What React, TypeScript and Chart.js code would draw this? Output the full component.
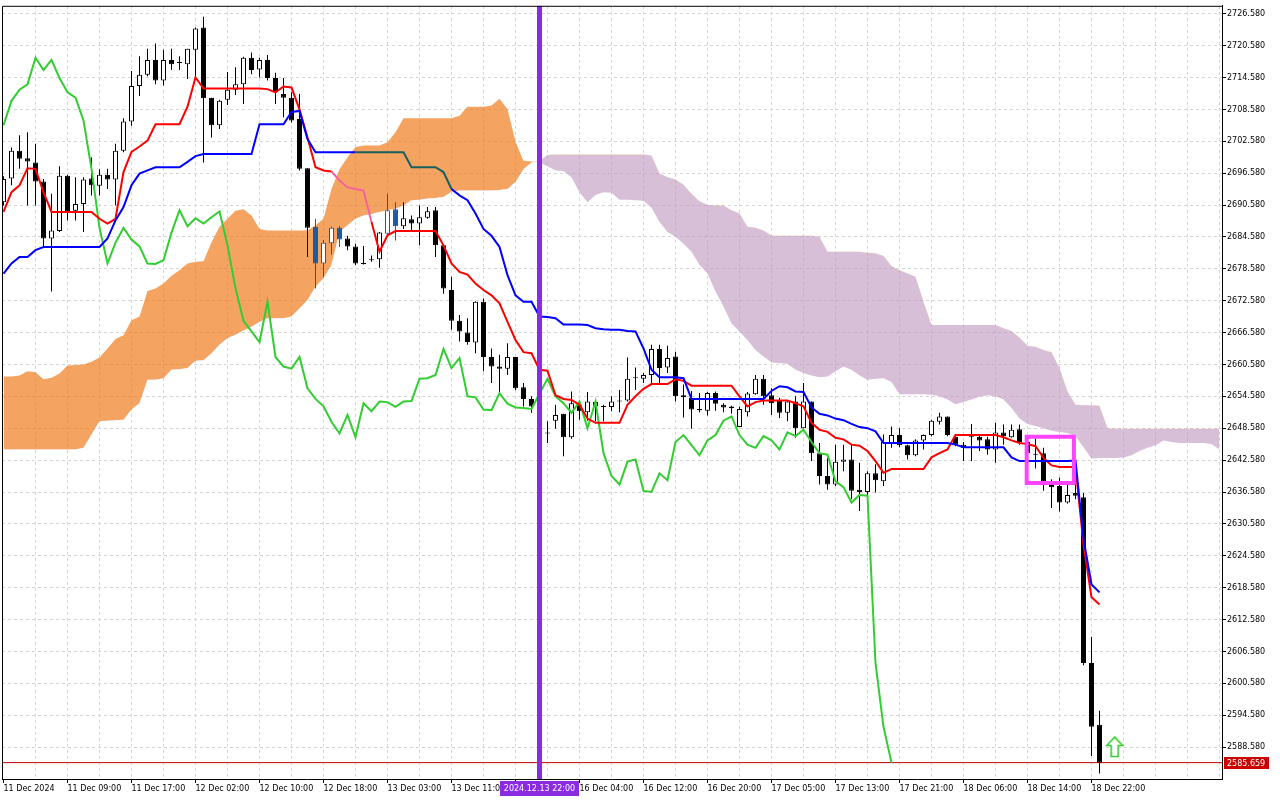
import { useEffect, useRef } from 'react';
import { Chart, registerables } from 'chart.js';

Chart.register(...registerables);

// ---- XAUUSD H1, 11 Dec 2024 01:00 .. 18 Dec 2024 23:00 (bar index 0..137) ----
const barOpen = [
  2691.1, 2695.6, 2700.8, 2699.4, 2698.6, 2695.0, 2684.3, 2685.7, 2696.1, 2689.5,
  2690.8, 2695.6, 2694.2, 2696.3, 2695.4, 2700.8, 2706.3, 2713.0, 2715.1, 2717.9,
  2714.0, 2717.9, 2717.3, 2717.1, 2719.8, 2724.0, 2710.8, 2705.6, 2710.4, 2712.3,
  2713.3, 2718.3, 2716.1, 2717.9, 2714.5, 2711.5, 2710.8, 2706.8, 2697.5, 2686.5,
  2679.6, 2683.4, 2686.3, 2684.3, 2682.8, 2679.7, 2680.4, 2680.4, 2685.2, 2689.8,
  2686.6, 2687.9, 2687.1, 2688.2, 2689.6, 2683.0, 2674.6, 2668.8, 2666.6, 2664.7,
  2672.4, 2662.0, 2660.2, 2659.8, 2662.0, 2656.3, 2654.1, 2652.7, 2647.8, 2650.0,
  2651.3, 2646.9, 2653.0, 2651.6, 2652.7, 2652.7, 2652.6, 2653.6, 2653.8, 2658.2,
  2657.9, 2658.6, 2663.5, 2660.0, 2662.1, 2654.8, 2654.3, 2652.1, 2651.9, 2655.2,
  2653.0, 2652.7, 2648.8, 2651.6, 2655.0, 2657.9, 2654.8, 2653.8, 2651.5, 2653.6,
  2648.6, 2653.6, 2643.9, 2639.6, 2638.0, 2642.3, 2642.7, 2637.0, 2636.6, 2640.1,
  2638.6, 2645.8, 2647.3, 2645.4, 2643.5, 2646.3, 2647.3, 2649.8, 2650.8, 2647.0,
  2645.5, 2646.9, 2647.0, 2646.5, 2644.6, 2647.8, 2646.9, 2648.4, 2646.0, 2643.8,
  2643.9, 2638.6, 2637.7, 2634.6, 2636.4, 2635.6, 2604.4, 2592.8,
];
const barHigh = [
  2696.0, 2701.4, 2703.7, 2704.3, 2702.1, 2695.5, 2692.7, 2697.9, 2696.3, 2695.8,
  2695.8, 2699.6, 2697.3, 2697.4, 2702.1, 2706.9, 2715.8, 2718.6, 2720.0, 2721.0,
  2719.8, 2720.0, 2718.6, 2720.0, 2724.0, 2726.0, 2710.8, 2710.4, 2715.6, 2716.5,
  2718.5, 2719.3, 2718.3, 2718.8, 2715.5, 2714.5, 2711.8, 2711.5, 2697.5, 2688.0,
  2684.0, 2686.5, 2686.6, 2684.8, 2683.3, 2682.9, 2681.1, 2685.5, 2692.7, 2691.1,
  2691.1, 2688.6, 2690.5, 2690.2, 2690.2, 2683.0, 2677.1, 2669.9, 2669.3, 2672.5,
  2673.0, 2663.6, 2662.4, 2664.6, 2662.0, 2657.1, 2654.6, 2653.5, 2649.9, 2653.0,
  2651.3, 2655.5, 2653.6, 2655.4, 2653.6, 2653.0, 2654.6, 2655.8, 2661.9, 2660.0,
  2659.0, 2664.3, 2664.3, 2664.1, 2663.0, 2656.8, 2655.6, 2655.2, 2655.4, 2655.5,
  2653.3, 2652.8, 2652.7, 2655.4, 2658.6, 2658.6, 2656.1, 2654.3, 2653.9, 2654.6,
  2657.1, 2653.6, 2645.8, 2643.0, 2645.5, 2645.5, 2645.5, 2642.1, 2640.5, 2641.8,
  2647.4, 2648.9, 2648.6, 2645.5, 2646.5, 2647.4, 2650.2, 2651.5, 2650.8, 2647.4,
  2646.0, 2649.4, 2647.5, 2647.0, 2649.6, 2649.3, 2649.3, 2649.3, 2646.5, 2646.6,
  2644.9, 2639.0, 2639.3, 2638.0, 2639.9, 2636.4, 2609.3, 2595.4,
];
const barLow = [
  2690.5, 2694.3, 2697.4, 2690.5, 2690.5, 2682.7, 2674.3, 2685.5, 2687.7, 2687.7,
  2685.5, 2692.4, 2692.4, 2693.6, 2690.5, 2700.5, 2705.5, 2711.1, 2714.8, 2713.3,
  2713.1, 2716.0, 2716.0, 2714.3, 2714.6, 2698.6, 2703.3, 2704.9, 2709.4, 2711.3,
  2709.6, 2715.2, 2714.6, 2714.0, 2709.6, 2707.1, 2706.1, 2697.1, 2680.8, 2674.9,
  2677.1, 2681.3, 2682.7, 2682.1, 2679.3, 2679.4, 2679.9, 2678.8, 2685.0, 2683.9,
  2686.1, 2685.5, 2683.0, 2688.0, 2680.8, 2673.9, 2667.1, 2664.9, 2664.3, 2662.7,
  2659.3, 2657.1, 2655.2, 2658.6, 2655.8, 2652.7, 2651.5, 2648.5, 2645.8, 2648.5,
  2643.3, 2646.6, 2650.2, 2650.0, 2649.9, 2649.9, 2651.8, 2651.6, 2653.6, 2655.8,
  2657.1, 2657.1, 2657.1, 2659.0, 2653.6, 2650.6, 2648.5, 2651.6, 2651.0, 2651.9,
  2651.6, 2651.3, 2648.8, 2650.8, 2654.9, 2653.0, 2651.1, 2650.5, 2649.9, 2646.8,
  2648.5, 2642.4, 2638.0, 2637.0, 2637.7, 2640.5, 2635.2, 2633.0, 2635.0, 2636.5,
  2637.7, 2644.9, 2645.0, 2642.7, 2643.3, 2644.6, 2647.1, 2649.3, 2647.1, 2645.2,
  2642.4, 2642.4, 2644.3, 2643.6, 2642.1, 2645.5, 2646.8, 2645.5, 2643.0, 2641.0,
  2636.8, 2633.6, 2632.9, 2634.4, 2635.2, 2604.0, 2586.9, 2583.6,
];
const barClose = [
  2695.5, 2700.8, 2699.3, 2698.8, 2695.0, 2684.3, 2685.8, 2696.1, 2689.4, 2690.8,
  2695.4, 2694.3, 2696.3, 2695.4, 2700.8, 2706.3, 2713.0, 2715.1, 2717.9, 2714.0,
  2717.9, 2717.1, 2717.5, 2720.0, 2723.8, 2710.7, 2705.6, 2710.2, 2712.3, 2713.3,
  2718.3, 2716.0, 2717.9, 2714.5, 2711.8, 2710.8, 2706.5, 2697.4, 2686.3, 2679.6,
  2683.5, 2686.3, 2684.1, 2682.8, 2679.6, 2679.5, 2680.2, 2685.4, 2689.6, 2686.6,
  2688.1, 2687.1, 2688.3, 2689.4, 2683.0, 2674.9, 2668.8, 2666.8, 2664.8, 2672.4,
  2662.0, 2660.2, 2659.8, 2662.0, 2656.1, 2654.1, 2652.7, 2649.8, 2647.6, 2651.1,
  2646.9, 2653.3, 2651.8, 2653.6, 2653.5, 2652.6, 2653.6, 2653.7, 2657.9, 2658.0,
  2658.6, 2663.5, 2659.9, 2661.8, 2654.6, 2654.4, 2652.1, 2652.0, 2655.2, 2653.2,
  2652.5, 2652.4, 2652.2, 2655.1, 2657.9, 2654.6, 2653.3, 2651.5, 2653.6, 2648.6,
  2653.6, 2643.9, 2639.6, 2638.0, 2642.3, 2642.7, 2636.8, 2636.6, 2640.1, 2638.8,
  2646.0, 2647.3, 2645.4, 2643.5, 2646.3, 2647.3, 2650.0, 2650.8, 2647.3, 2645.5,
  2644.9, 2647.1, 2646.3, 2644.6, 2647.8, 2647.1, 2648.3, 2646.0, 2643.9, 2643.6,
  2638.6, 2637.5, 2634.6, 2636.0, 2635.9, 2604.4, 2592.4, 2585.659,
];

// Ichimoku lines
const tenkanSen = [
  2689.3, 2693.0, 2694.3, 2697.5, 2697.4, 2693.0, 2689.3, 2689.3, 2689.3, 2689.3,
  2689.3, 2689.3, 2688.0, 2687.1, 2688.0, 2696.8, 2700.6, 2701.6, 2702.7, 2705.8,
  2705.8, 2705.8, 2705.8, 2709.1, 2714.6, 2712.5, 2712.5, 2712.5, 2712.5, 2712.5,
  2712.5, 2712.5, 2712.5, 2712.4, 2711.8, 2712.9, 2712.7, 2708.6, 2703.3, 2697.7,
  2697.1, 2696.9, 2695.2, 2693.9, 2693.6, 2693.3, 2687.4, 2681.8, 2684.9, 2685.7,
  2685.7, 2685.7, 2685.7, 2685.7, 2685.7, 2683.0, 2679.6, 2678.0, 2677.5, 2675.8,
  2674.6, 2673.6, 2672.1, 2668.6, 2665.2, 2662.9, 2662.7, 2659.6, 2659.4, 2654.8,
  2654.1, 2653.9, 2653.0, 2650.4, 2649.6, 2649.6, 2649.6, 2649.6, 2653.0, 2654.6,
  2656.0, 2656.9, 2656.9, 2656.9, 2657.8, 2657.5, 2656.6, 2656.6, 2656.6, 2656.6,
  2656.6, 2656.6, 2654.6, 2652.7, 2653.5, 2653.8, 2653.8, 2653.8, 2653.8, 2653.3,
  2652.7, 2649.6, 2648.3, 2647.9, 2646.8, 2646.5, 2645.5, 2645.3, 2644.3, 2642.4,
  2640.2, 2640.9, 2640.9, 2640.9, 2640.9, 2640.9, 2643.1, 2643.9, 2644.6, 2647.3,
  2647.3, 2647.3, 2647.3, 2647.3, 2647.3, 2646.9, 2646.3, 2645.8, 2645.6, 2645.2,
  2643.0, 2641.6, 2641.3, 2641.3, 2641.3, 2626.7, 2616.8, 2615.4,
];
const kijunSen = [
  2677.7, 2679.6, 2680.8, 2680.8, 2682.1, 2682.7, 2682.7, 2682.7, 2682.7, 2682.7,
  2682.7, 2682.7, 2682.7, 2684.3, 2687.7, 2690.2, 2694.3, 2696.5, 2697.1, 2697.7,
  2697.7, 2697.7, 2697.7, 2698.7, 2699.8, 2700.2, 2700.2, 2700.2, 2700.2, 2700.2,
  2700.2, 2700.2, 2705.8, 2705.8, 2705.8, 2705.8, 2708.1, 2708.3, 2703.0, 2700.5,
  2700.5, 2700.5, 2700.5, 2700.5, 2700.5, 2700.5, 2700.5, 2700.5, 2700.5, 2700.5,
  2700.5, 2697.7, 2697.7, 2697.7, 2697.7, 2696.8, 2693.6, 2692.4, 2691.5, 2689.0,
  2686.1, 2684.8, 2682.7, 2677.4, 2673.6, 2672.4, 2672.4, 2669.6, 2669.5, 2669.3,
  2668.1, 2668.1, 2668.1, 2668.0, 2667.4, 2667.2, 2667.1, 2667.1, 2666.9, 2666.8,
  2663.6, 2659.6, 2658.2, 2658.2, 2658.2, 2658.0, 2654.1, 2654.1, 2654.1, 2654.1,
  2654.1, 2654.1, 2654.1, 2654.1, 2654.1, 2654.1, 2655.6, 2656.5, 2656.3, 2655.5,
  2655.4, 2652.5, 2651.3, 2651.0, 2650.4, 2650.1, 2649.4, 2648.8, 2648.6, 2648.0,
  2645.8, 2645.8, 2645.8, 2645.8, 2645.8, 2645.8, 2645.8, 2645.8, 2645.8, 2645.5,
  2645.0, 2645.0, 2645.0, 2645.0, 2645.0, 2645.0, 2643.1, 2642.4, 2642.4, 2642.4,
  2642.4, 2642.4, 2642.4, 2642.4, 2642.5, 2627.8, 2619.2, 2617.7,
];
// Senkou spans, already shifted 26 bars forward (bar index 0..152)
const senkouSpanA = [
  2658.3, 2658.3, 2658.5, 2659.3, 2659.1, 2657.8, 2658.1, 2658.9, 2660.4, 2660.5,
  2660.6, 2661.1, 2661.9, 2663.6, 2665.4, 2666.1, 2668.9, 2669.6, 2674.4, 2674.9,
  2675.8, 2677.3, 2678.3, 2679.6, 2679.9, 2680.0, 2683.6, 2686.5, 2688.0, 2689.5,
  2689.8, 2688.6, 2686.1, 2685.8, 2685.8, 2685.8, 2685.8, 2685.8, 2685.8, 2686.8,
  2688.0, 2693.6, 2697.3, 2699.6, 2701.5, 2701.8, 2701.8, 2701.8, 2702.4, 2704.3,
  2706.9, 2706.9, 2706.9, 2706.9, 2706.9, 2706.9, 2706.9, 2707.4, 2709.1, 2709.1,
  2709.1, 2709.3, 2710.6, 2708.6, 2702.5, 2698.9, 2698.8, 2698.6, 2697.9, 2697.1,
  2697.0, 2695.8, 2693.0, 2691.1, 2692.5, 2693.0, 2692.9, 2691.6, 2691.6, 2691.5,
  2691.4, 2690.1, 2687.4, 2685.5, 2684.6, 2683.3, 2681.8, 2679.3, 2677.7, 2674.3,
  2671.5, 2668.3, 2666.8, 2665.2, 2663.3, 2662.1, 2661.0, 2660.8, 2660.7, 2659.6,
  2659.0, 2658.5, 2658.2, 2658.3, 2659.3, 2660.2, 2659.6, 2658.5, 2657.7, 2657.9,
  2658.0, 2657.3, 2655.0, 2655.0, 2655.0, 2655.0, 2654.9, 2654.6, 2654.0, 2653.1,
  2653.5, 2654.0, 2654.5, 2654.8, 2654.6, 2654.0, 2652.4, 2650.4, 2649.4, 2649.0,
  2648.6, 2648.1, 2647.9, 2647.7, 2647.1, 2645.0, 2642.9, 2643.0, 2643.0, 2643.0,
  2643.1, 2643.5, 2644.3, 2644.9, 2645.4, 2646.3, 2646.0, 2645.8, 2645.8, 2645.8,
  2645.8, 2645.6, 2644.6,
];
const senkouSpanB = [
  2644.6, 2644.6, 2644.6, 2644.6, 2644.6, 2644.6, 2644.6, 2644.6, 2644.6, 2644.6,
  2644.9, 2647.4, 2649.9, 2650.0, 2650.1, 2650.2, 2652.1, 2653.3, 2657.7, 2657.7,
  2658.0, 2659.6, 2659.7, 2659.9, 2661.3, 2661.4, 2662.7, 2664.3, 2665.5, 2666.2,
  2667.0, 2667.7, 2668.6, 2669.3, 2669.3, 2669.3, 2669.6, 2671.1, 2672.7, 2675.2,
  2676.8, 2679.3, 2685.5, 2686.8, 2688.0, 2688.6, 2688.9, 2689.3, 2689.6, 2689.9,
  2690.5, 2691.5, 2691.6, 2691.8, 2691.9, 2692.1, 2693.1, 2693.3, 2693.3, 2693.3,
  2693.3, 2693.3, 2693.4, 2693.6, 2694.9, 2697.3, 2698.6, 2698.9, 2700.0, 2700.1,
  2700.1, 2700.1, 2700.1, 2700.1, 2700.1, 2700.1, 2700.1, 2700.1, 2700.1, 2700.1,
  2700.1, 2699.9, 2696.5, 2695.8, 2695.4, 2694.4, 2692.7, 2691.3, 2690.6, 2690.5,
  2690.5, 2689.6, 2689.0, 2686.5, 2686.3, 2685.8, 2684.8, 2684.8, 2684.8, 2684.8,
  2684.8, 2684.8, 2684.6, 2681.8, 2681.8, 2681.8, 2681.8, 2681.8, 2681.6, 2681.5,
  2681.0, 2679.1, 2678.3, 2677.7, 2677.1, 2672.4, 2668.0, 2668.0, 2668.0, 2668.0,
  2668.0, 2668.0, 2668.0, 2668.0, 2668.0, 2667.4, 2666.9, 2665.6, 2664.1, 2663.9,
  2663.3, 2662.9, 2659.9, 2655.5, 2653.0, 2652.9, 2652.9, 2652.8, 2648.6, 2648.5,
  2648.5, 2648.5, 2648.5, 2648.5, 2648.5, 2648.5, 2648.5, 2648.5, 2648.5, 2648.5,
  2648.5, 2648.5, 2648.5,
];
const chikouShift = 26;

// axis labels
const xTickBars = [0, 8, 16, 24, 32, 40, 48, 56, 64, 72, 80, 88, 96, 104, 112, 120, 128, 136];
const xTickLabels = [
  '11 Dec 2024', '11 Dec 09:00', '11 Dec 17:00', '12 Dec 02:00', '12 Dec 10:00',
  '12 Dec 18:00', '13 Dec 03:00', '13 Dec 11:00', '13 Dec 19:00', '16 Dec 04:00',
  '16 Dec 12:00', '16 Dec 20:00', '17 Dec 05:00', '17 Dec 13:00', '17 Dec 21:00',
  '18 Dec 06:00', '18 Dec 14:00', '18 Dec 22:00',
];
const yTickValues = [
  2588.58, 2594.58, 2600.58, 2606.58, 2612.58, 2618.58, 2624.58, 2630.58,
  2636.58, 2642.58, 2648.58, 2654.58, 2660.58, 2666.58, 2672.58, 2678.58,
  2684.58, 2690.58, 2696.58, 2702.58, 2708.58, 2714.58, 2720.58, 2726.58,
];

// annotations
const separatorBar = 67;
const separatorLabel = '2024.12.13 22:00';
const boxBars = [127.9, 133.8];
const boxPrices = [2638.3, 2647.0];
const arrowBar = [138.9];
const arrowPrice = [2588.6];
const cloudTintedCandles = [39, 40, 41, 42, 48, 49];

const X_MIN = -0.1875;
const X_MAX = 152.3125;
const Y_MIN = 2582.58;
const Y_MAX = 2728.08;

const FONT = '"DejaVu Sans", sans-serif';
const GRID = '#d6d6d6';
const TINT = '#1d5c9e';
const SEP_COLOR = '#8a2be2';
const PRICE_COLOR = '#cc0000';

function makeArrow(): HTMLCanvasElement {
  const c = document.createElement('canvas');
  c.width = 19;
  c.height = 22;
  const g = c.getContext('2d')!;
  g.beginPath();
  g.moveTo(9.5, 1);
  g.lineTo(17.5, 9.5);
  g.lineTo(13, 9.5);
  g.lineTo(13, 20.5);
  g.lineTo(6, 20.5);
  g.lineTo(6, 9.5);
  g.lineTo(1.5, 9.5);
  g.closePath();
  g.fillStyle = '#ffffff';
  g.fill();
  g.lineWidth = 1.6;
  g.strokeStyle = '#33cc33';
  g.stroke();
  g.lineWidth = 0.8;
  g.strokeStyle = '#b8f040';
  g.beginPath();
  g.moveTo(9.5, 3);
  g.lineTo(15.5, 9);
  g.stroke();
  return c;
}

const overlayPlugin = {
  id: 'mtOverlay',
  afterDraw(chart: any) {
    const { ctx, chartArea: a, scales } = chart;
    const xs = scales.x;
    const ys = scales.y;
    ctx.save();
    // frame (left + top)
    ctx.strokeStyle = '#000';
    ctx.lineWidth = 1;
    ctx.beginPath();
    ctx.moveTo(a.left + 0.5, a.bottom);
    ctx.lineTo(a.left + 0.5, a.top + 0.5);
    ctx.lineTo(a.right, a.top + 0.5);
    ctx.stroke();
    // separator time label
    ctx.font = `8px ${FONT}`;
    const px = xs.getPixelForValue(separatorBar);
    const tw = ctx.measureText(separatorLabel).width;
    const bw = Math.round(tw + 8);
    const bx = Math.round(px - bw / 2);
    ctx.fillStyle = SEP_COLOR;
    ctx.fillRect(bx, a.bottom + 2, bw, 15);
    ctx.fillStyle = '#ffffff';
    ctx.textAlign = 'center';
    ctx.textBaseline = 'middle';
    ctx.fillText(separatorLabel, px, a.bottom + 10);
    // last price label
    const last = barClose[barClose.length - 1];
    const py = Math.round(ys.getPixelForValue(last));
    ctx.fillStyle = PRICE_COLOR;
    ctx.fillRect(a.right + 2, py - 6, 45, 12);
    ctx.fillStyle = '#ffffff';
    ctx.textAlign = 'left';
    ctx.fillText(last.toFixed(3), a.right + 5, py + 0.5);
    ctx.restore();
  },
};

export default function App() {
  const ref = useRef<HTMLCanvasElement | null>(null);

  useEffect(() => {
    const canvas = ref.current;
    if (!canvas) return;
    Chart.defaults.font.family = FONT;
    Chart.defaults.font.size = 8;
    Chart.defaults.color = '#000';

    const n = barClose.length;
    const idx = barClose.map((_, i) => i);
    const tinted = (i: number) => cloudTintedCandles.includes(i);
    const bull = (i: number) => barClose[i] > barOpen[i];

    const wickData = idx.map((i) => ({ x: i, y: [barLow[i], barHigh[i]] }));
    const bodyData = idx.map((i) => ({ x: i, y: [barOpen[i], barClose[i]] }));
    const wickColors = idx.map((i) => (tinted(i) ? TINT : '#000000'));
    const bodyFill = idx.map((i) => (bull(i) ? '#ffffff' : tinted(i) ? TINT : '#000000'));

    const lineBase = {
      type: 'line' as const,
      pointRadius: 0,
      tension: 0,
      fill: false,
      clip: 0,
    };

    const datasets: any[] = [
      {
        ...lineBase,
        label: 'Senkou Span A',
        data: senkouSpanA.map((v, i) => ({ x: i, y: v })),
        borderWidth: 0,
        borderColor: 'rgba(0,0,0,0)',
        fill: { target: 1, above: 'rgba(238,115,10,0.65)', below: 'rgba(190,148,190,0.6)' },
        order: 20,
      },
      {
        ...lineBase,
        label: 'Senkou Span B',
        data: senkouSpanB.map((v, i) => ({ x: i, y: v })),
        borderWidth: 0,
        borderColor: 'rgba(0,0,0,0)',
        order: 21,
      },
      {
        ...lineBase,
        label: 'price',
        data: [
          { x: X_MIN, y: barClose[n - 1] },
          { x: X_MAX, y: barClose[n - 1] },
        ],
        borderWidth: 1,
        borderColor: '#c00000',
        order: 15,
      },
      {
        type: 'bar',
        label: 'wick',
        data: wickData,
        backgroundColor: wickColors,
        borderWidth: 0,
        barThickness: 1,
        maxBarThickness: 1,
        grouped: false,
        inflateAmount: 0,
        order: 12,
      },
      {
        type: 'bar',
        label: 'body',
        data: bodyData,
        backgroundColor: bodyFill,
        borderColor: wickColors,
        borderWidth: 1,
        borderSkipped: false,
        barThickness: 5,
        maxBarThickness: 5,
        minBarLength: 1,
        grouped: false,
        inflateAmount: 0,
        order: 11,
      },
      {
        ...lineBase,
        label: 'Chikou Span',
        data: idx.filter((i) => i + chikouShift < n).map((i) => ({ x: i, y: barClose[i + chikouShift] })),
        borderWidth: 2,
        borderColor: '#32cd32',
        order: 8,
      },
      {
        ...lineBase,
        label: 'Tenkan-sen',
        data: tenkanSen.map((v, i) => ({ x: i, y: v })),
        borderWidth: 2,
        borderColor: '#ff0000',
        segment: {
          borderColor: (c: any) => (c.p0DataIndex >= 41 && c.p0DataIndex <= 45 ? '#f2639e' : undefined),
        },
        order: 7,
      },
      {
        ...lineBase,
        label: 'Kijun-sen',
        data: kijunSen.map((v, i) => ({ x: i, y: v })),
        borderWidth: 2,
        borderColor: '#0000ff',
        segment: {
          borderColor: (c: any) => (c.p0DataIndex >= 44 && c.p0DataIndex <= 55 ? '#17605e' : undefined),
        },
        order: 6,
      },
      {
        ...lineBase,
        label: 'separator',
        data: [
          { x: separatorBar, y: Y_MIN },
          { x: separatorBar, y: Y_MAX },
        ],
        borderWidth: 5,
        borderColor: SEP_COLOR,
        order: 3,
      },
      {
        ...lineBase,
        label: 'box',
        data: [
          { x: boxBars[0], y: boxPrices[1] },
          { x: boxBars[1], y: boxPrices[1] },
          { x: boxBars[1], y: boxPrices[0] },
          { x: boxBars[0], y: boxPrices[0] },
          { x: boxBars[0], y: boxPrices[1] },
          { x: boxBars[1], y: boxPrices[1] },
        ],
        borderWidth: 4,
        borderColor: '#ff44ff',
        borderJoinStyle: 'miter',
        order: 2,
      },
      {
        type: 'scatter',
        label: 'arrow',
        data: arrowBar.map((b, i) => ({ x: b, y: arrowPrice[i] })),
        pointStyle: makeArrow(),
        pointRadius: 10,
        showLine: false,
        order: 1,
      },
    ];

    const gridBars: number[] = [];
    for (let b = 0; b <= 152; b += 4) gridBars.push(b);

    const chart = new Chart(canvas, {
      type: 'line',
      data: { datasets },
      plugins: [overlayPlugin],
      options: {
        responsive: false,
        animation: false,
        devicePixelRatio: 1,
        events: [],
        layout: { padding: { left: 2, top: 3, right: 0, bottom: 0 }, autoPadding: false },
        plugins: { legend: { display: false }, tooltip: { enabled: false } },
        scales: {
          x: {
            type: 'linear',
            position: 'bottom',
            min: X_MIN,
            max: X_MAX,
            offset: false,
            afterBuildTicks: (s: any) => {
              s.ticks = gridBars.map((v) => ({ value: v }));
            },
            afterFit: (s: any) => {
              s.height = 21;
            },
            ticks: {
              autoSkip: false,
              maxRotation: 0,
              minRotation: 0,
              align: 'start',
              padding: 1,
              color: '#000',
              font: { family: FONT, size: 8 },
              callback: (v: any) => {
                const k = xTickBars.indexOf(Number(v));
                return k >= 0 ? xTickLabels[k] : '';
              },
            },
            grid: {
              offset: false,
              color: (c: any) => (c.tick && c.tick.value > 0 ? GRID : 'rgba(0,0,0,0)'),
              lineWidth: 1,
              tickLength: 4,
              tickWidth: 1,
              tickColor: (c: any) =>
                c.tick && xTickBars.includes(c.tick.value) ? '#000' : 'rgba(0,0,0,0)',
            },
            border: { display: true, color: '#000', width: 1, dash: [3, 3] },
          },
          y: {
            type: 'linear',
            position: 'right',
            min: Y_MIN,
            max: Y_MAX,
            beginAtZero: false,
            afterBuildTicks: (s: any) => {
              s.ticks = yTickValues.map((v) => ({ value: v }));
            },
            afterFit: (s: any) => {
              s.width = 58;
            },
            ticks: {
              padding: 1,
              color: '#000',
              font: { family: FONT, size: 8 },
              callback: (v: any) => Number(v).toFixed(3),
            },
            grid: { color: GRID, lineWidth: 1, tickLength: 4, tickWidth: 1, tickColor: '#000' },
            border: { display: true, color: '#000', width: 1, dash: [3, 3] },
          },
        },
      } as any,
    });

    return () => chart.destroy();
  }, []);

  return (
    <div style={{ position: 'absolute', left: 0, top: 0, width: 1280, height: 800, background: '#ffffff' }}>
      <canvas ref={ref} width={1280} height={800} style={{ display: 'block', width: 1280, height: 800 }} />
    </div>
  );
}
